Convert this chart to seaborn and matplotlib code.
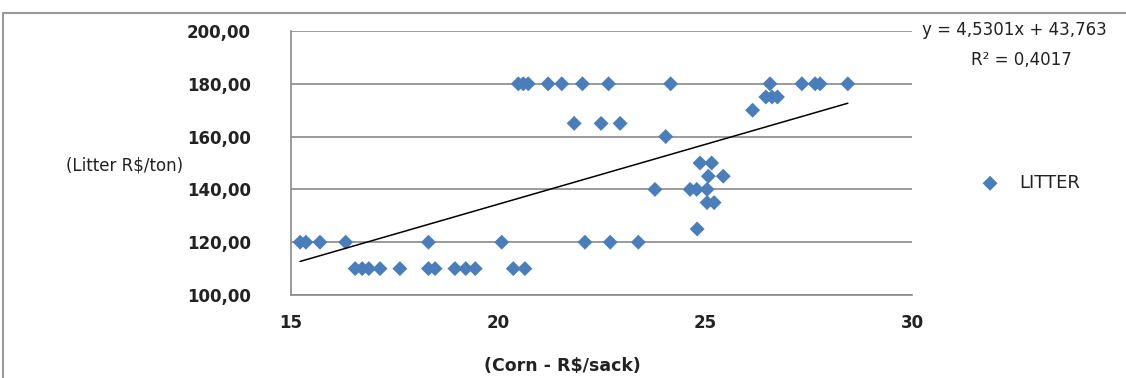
import numpy as np
import pandas as pd
import matplotlib
matplotlib.use("Agg")
import matplotlib.pyplot as plt
from matplotlib.lines import Line2D
import seaborn as sns

# ---- data ----
corn_120 = [15.22, 15.36, 15.70, 16.32, 18.32, 20.09, 22.10, 22.71, 23.39]
corn_110 = [16.55, 16.72, 16.88, 17.15, 17.63, 18.32, 18.48, 18.96, 19.22, 19.45, 20.37, 20.65]
corn_125 = [24.81]
corn_135 = [25.05, 25.22]
corn_140 = [23.79, 24.64, 24.80, 25.05]
corn_145 = [25.08, 25.44]
corn_150 = [24.88, 25.16]
corn_160 = [24.05]
corn_165 = [21.84, 22.49, 22.95]
corn_170 = [26.15]
corn_175 = [26.47, 26.62, 26.75]
corn_180 = [20.49, 20.61, 20.73, 21.21, 21.54, 22.04, 22.67, 24.17, 26.57, 27.34, 27.66, 27.78, 28.45]

litter_levels = [110, 120, 125, 135, 140, 145, 150, 160, 165, 170, 175, 180]
corn_groups = [corn_110, corn_120, corn_125, corn_135, corn_140, corn_145,
               corn_150, corn_160, corn_165, corn_170, corn_175, corn_180]

SLOPE = 4.5301
INTERCEPT = 43.763
eq_text = "y = 4,5301x + 43,763"
r2_text = "R² = 0,4017"
series_name = "LITTER"
x_label = "(Corn - R$/sack)"
y_label = "(Litter R$/ton)"
x_ticks = [15, 20, 25, 30]
y_ticks = [100, 120, 140, 160, 180, 200]

corn, litter = [], []
for lv, grp in zip(litter_levels, corn_groups):
    corn.extend(grp)
    litter.extend([lv] * len(grp))
df = pd.DataFrame({"corn": corn, "litter": litter})

xs = np.array([min(corn), max(corn)])
trend = pd.DataFrame({"x": xs, "y": SLOPE * xs + INTERCEPT})

# ---- figure ----
sns.set_style("white")
plt.rcParams["font.family"] = ["DejaVu Sans"]
W, H = 1126, 378
fig = plt.figure(figsize=(W / 100, H / 100), dpi=100)
ax = fig.add_axes([291 / W, 1 - 295 / H, (912 - 291) / W, (295 - 31) / H])

grid_c = "#8a8a8a"
blue = "#4a7ebb"
txt_c = "#222222"

sns.scatterplot(data=df, x="corn", y="litter", marker="D", s=58, color=blue,
                edgecolor="none", ax=ax, zorder=3, label=series_name)
sns.lineplot(data=trend, x="x", y="y", color="black", linewidth=1.1, ax=ax, zorder=4,
             legend=False)

ax.set_xlim(15, 30)
ax.set_ylim(100, 200)
ax.set_xticks(x_ticks)
ax.set_yticks(y_ticks)
ax.set_yticklabels([f"{v:.2f}".replace(".", ",") for v in y_ticks], fontweight="bold")
ax.set_xticklabels([str(v) for v in x_ticks], fontweight="bold")
ax.tick_params(axis="y", direction="out", length=7, width=1, color=grid_c,
               labelsize=12, labelcolor=txt_c, pad=22)
ax.tick_params(axis="x", direction="out", length=4, width=1, color=grid_c,
               labelsize=12, labelcolor=txt_c, pad=10)
ax.yaxis.grid(True, color=grid_c, linewidth=1.2)
ax.set_axisbelow(True)
for s in ["top", "right"]:
    ax.spines[s].set_visible(False)
for s in ["left", "bottom"]:
    ax.spines[s].set_color(grid_c)
    ax.spines[s].set_linewidth(1.2)
ax.set_xlabel("")
ax.set_ylabel("")

fig.text(562 / W, 1 - 366 / H, x_label, ha="center", va="center",
         fontsize=12.5, color=txt_c, fontweight="bold")
fig.text(183 / W, 1 - 166 / H, y_label, ha="right", va="center",
         fontsize=12, color=txt_c)
fig.text(922 / W, 1 - 30 / H, eq_text, ha="left", va="center",
         fontsize=12, color=txt_c)
fig.text(1021 / W, 1 - 60 / H, r2_text, ha="center", va="center",
         fontsize=12, color=txt_c)

ax.legend(loc="center left", bbox_to_anchor=(972 / W, 1 - 183 / H),
          bbox_transform=fig.transFigure, frameon=False, fontsize=13,
          handletextpad=0.6, borderpad=0, borderaxespad=0, handlelength=2.0,
          labelcolor=txt_c)

# outer chart frame
fig.add_artist(Line2D([3 / W, 1.0], [1 - 13 / H, 1 - 13 / H], transform=fig.transFigure,
                      color="#999999", linewidth=1.5))
fig.add_artist(Line2D([3 / W, 3 / W], [0, 1 - 13 / H], transform=fig.transFigure,
                      color="#999999", linewidth=1.5))

fig.savefig("out.png", dpi=100, facecolor="white")
